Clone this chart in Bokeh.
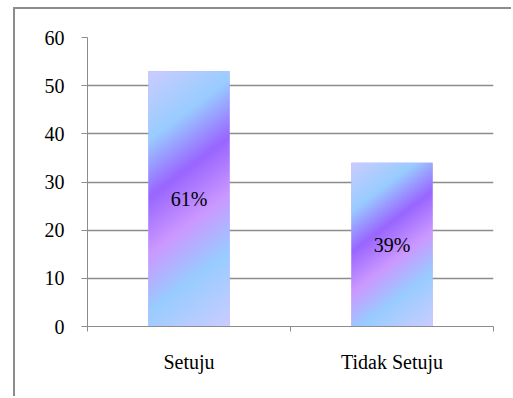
import numpy as np
from bokeh.plotting import figure
from bokeh.models import Range1d, FixedTicker, LinearAxis, ColumnDataSource
from bokeh.core.properties import value
from bokeh.embed import file_html
from bokeh.resources import INLINE

categories = ["Setuju", "Tidak Setuju"]
values = [53, 34]
pct_labels = ["61%", "39%"]
y_ticks = [0, 10, 20, 30, 40, 50, 60]

FONT = "Liberation Serif"
FS = "20px"
GRAY = "#8c8c8c"

W, H = 498, 389
p = figure(width=W, height=H, output_backend="svg", toolbar_location=None,
           x_range=Range1d(0, 2), y_range=Range1d(0, 60),
           min_border_left=72, min_border_right=20, min_border_top=28, min_border_bottom=72)
p.styles = {"border-left": "2px solid " + GRAY, "border-top": "2px solid " + GRAY,
            "margin-left": "13px", "margin-top": "7px"}
p.outline_line_color = None
p.xgrid.grid_line_color = None
p.ygrid.grid_line_color = GRAY
p.ygrid.grid_line_width = 1.3
p.ygrid.ticker = FixedTicker(ticks=y_ticks)

ya = p.yaxis[0]
ya.ticker = FixedTicker(ticks=y_ticks)
ya.axis_line_color = GRAY
ya.major_tick_line_color = GRAY
ya.major_tick_out = 6
ya.major_tick_in = 0
ya.minor_tick_line_color = None
ya.major_label_text_font = FONT
ya.major_label_text_font_size = FS
ya.major_label_text_color = "black"
ya.major_label_standoff = 17

xa = p.xaxis[0]
xa.ticker = FixedTicker(ticks=[0, 1, 2])
xa.axis_line_color = GRAY
xa.major_tick_line_color = GRAY
xa.major_tick_out = 5
xa.major_tick_in = 0
xa.minor_tick_line_color = None
xa.major_label_overrides = {0: "", 1: "", 2: ""}
xa.major_label_text_font_size = "1px"
xa.major_label_standoff = 0

centers = [i + 0.5 for i in range(len(categories))]
xa2 = LinearAxis(ticker=FixedTicker(ticks=centers),
                 major_label_overrides={c: n for c, n in zip(centers, categories)})
xa2.axis_line_color = None
xa2.major_tick_line_color = None
xa2.minor_tick_line_color = None
xa2.major_label_text_font = FONT
xa2.major_label_text_font_size = FS
xa2.major_label_text_color = "black"
xa2.major_label_standoff = 13
p.add_layout(xa2, "below")

bar_w = 0.4
stops = [0.0, 0.22, 0.40, 0.58, 0.76, 1.0]
cols = np.array([[204, 204, 255], [153, 204, 255], [153, 102, 255],
                 [204, 153, 255], [153, 204, 255], [204, 204, 255]], dtype=float)

def gradient(nx, ny):
    X, Y = np.meshgrid(np.arange(nx) + 0.5, np.arange(ny) + 0.5)
    t = (0.6 * X + 0.8 * Y) / (0.6 * nx + 0.8 * ny)
    img = np.empty((ny, nx), dtype=np.uint32)
    view = img.view(dtype=np.uint8).reshape((ny, nx, 4))
    for k in range(3):
        view[:, :, k] = np.interp(t, stops, cols[:, k]).astype(np.uint8)
    view[:, :, 3] = 255
    return img[::-1].copy()

px_per_x = 406 / 2
px_per_y = 289 / 60
src = ColumnDataSource(dict(x=centers, top=values, lab=pct_labels,
                            mid=[v / 2 for v in values]))
p.vbar(x="x", top="top", width=bar_w, source=src, fill_color="#b399ff", line_color=None)
imgs = [gradient(int(round(bar_w * px_per_x)), int(round(v * px_per_y))) for v in values]
p.image_rgba(image=imgs, x=[c - bar_w / 2 for c in centers], y=[0] * len(values),
             dw=[bar_w] * len(values), dh=values)
p.text(x="x", y="mid", text="lab", source=src, text_align="center", text_baseline="middle",
       text_font=value(FONT), text_font_size=FS, text_color="black")

open("out.html", "w").write(file_html(p, INLINE))
